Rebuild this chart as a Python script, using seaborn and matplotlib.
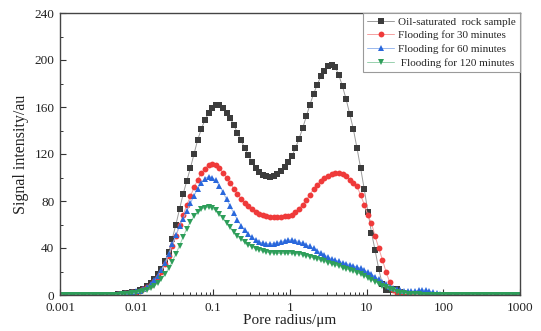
import numpy as np
import matplotlib
matplotlib.use("Agg")
import matplotlib.pyplot as plt
import matplotlib.ticker as mticker
import seaborn as sns

# ---- data ----
n_points = 128
radius = np.logspace(-3, 3, n_points)

lead_black = [0.0] * 14 + [0.2, 0.4, 0.6, 0.9, 1.3, 1.8]
oil_saturated = lead_black + [
    2.2, 2.9, 4.0, 5.5, 7.5, 10, 13.5, 17.5, 22.5, 29,
    37, 48, 60, 73, 86, 97, 108, 120, 132, 141,
    149, 154.5, 159, 162, 162, 159.5, 155, 150.5, 144.5, 138,
    131.5, 125, 119, 113, 108.5, 105, 102.5, 101, 100.5, 101,
    103, 105.5, 109, 113, 118, 125, 133, 142, 152, 162,
    171, 179, 186, 191, 194.5, 196, 194, 187, 177.5, 166.5,
    154, 141, 125, 108, 90, 71, 53, 38, 22, 9,
    4, 4.5, 5.5, 5, 2.5, 0.8]
oil_saturated += [0.0] * (n_points - len(oil_saturated))

flood_30 = lead_black + [
    2.2, 2.9, 3.8, 5.0, 6.5, 8.8, 12, 15.5, 20, 26,
    33, 41.5, 50, 59.5, 68, 76.5, 84, 91.5, 98, 103.5,
    107.5, 110.5, 111.5, 110.5, 108, 104, 100, 95, 90.5, 86,
    82, 78.5, 75.5, 73, 71, 69, 68, 67, 66.7, 66.5,
    66.5, 66.5, 67, 67.5, 68.5, 70.5, 73.5, 77, 81, 85.5,
    90, 94, 97, 99.5, 101.5, 103, 104, 104.2, 103.2, 101,
    98, 95.5, 92.5, 85, 77, 68, 61, 50, 40, 30,
    20, 11, 4.5, 1.8, 0.8, 0.3]
flood_30 += [0.0] * (n_points - len(flood_30))

flood_60 = lead_black + [
    2.3, 3.0, 3.8, 5.0, 6.8, 9.2, 12.5, 16.5, 21.5, 27.5,
    35, 43, 51, 58.5, 65, 71.5, 78, 84.5, 90.5, 95.5,
    99, 100.8, 100, 97.5, 93, 87.5, 81.5, 75.5, 69.5, 64,
    59, 55, 51.5, 49, 47, 45.3, 44.2, 43.6, 43.5, 43.8,
    44.5, 45.3, 46.2, 46.8, 46.8, 46.3, 45.3, 44.2, 42.8, 41.3,
    39.6, 37.8, 35.8, 34, 32.3, 30.8, 29.6, 28.6, 27.6, 26.7,
    25.8, 24.8, 23.8, 22.7, 21.2, 19.5, 17.5, 15.5, 13.2, 11,
    9, 7.2, 6, 5, 4.3, 3.7, 3.4, 3.3, 3.5, 3.9,
    4.2, 4.0, 3.3, 2.4, 1.5, 0.8, 0.3]
flood_60 += [0.0] * (n_points - len(flood_60))

flood_120 = [0.0] * 14 + [0.1, 0.2, 0.4, 0.6, 0.8, 1.1] + [
    1.4, 1.8, 2.4, 3.1, 4.1, 5.6, 7.6, 10.3, 13.7, 17.8,
    22.8, 28.5, 35, 42, 49.5, 56.5, 62.5, 67, 70.5, 73,
    74.4, 74.8, 74, 72, 69, 65.5, 61.5, 57.5, 54, 50.5,
    47.5, 45, 42.8, 41, 39.5, 38.3, 37.3, 36.5, 36, 35.6,
    35.4, 35.4, 35.5, 35.5, 35.4, 35.2, 34.8, 34.2, 33.4, 32.5,
    31.5, 30.5, 29.5, 28.6, 27.6, 26.6, 25.6, 24.5, 23.3, 22.2,
    21.2, 20.2, 19, 17.8, 16.3, 14.7, 13, 11.3, 9.6, 8,
    6.5, 5.1, 3.9, 2.8, 2.0, 1.5, 1.2, 1.0, 0.8, 0.6,
    0.4]
flood_120 += [0.0] * (n_points - len(flood_120))

series_labels = ["Oil-saturated  rock sample", "Flooding for 30 minutes",
                 "Flooding for 60 minutes", " Flooding for 120 minutes"]
x_ticks = [0.001, 0.01, 0.1, 1, 10, 100, 1000]
x_tick_labels = ["0.001", "0.01", "0.1", "1", "10", "100", "1000"]
y_ticks = [0, 40, 80, 120, 160, 200, 240]

# ---- style ----
sns.set_theme(style="ticks")
plt.rcParams["font.family"] = ["Liberation Serif", "DejaVu Serif"]

fig = plt.figure(figsize=(5.41, 3.31), dpi=100)
ax = fig.add_axes([60 / 541, 36 / 331, 460 / 541, 282 / 331])

styles = [
    (oil_saturated, "s", "#3c3c3c", "#9a9a9a", 3.8),
    (flood_30, "o", "#ef3a3a", "#f4a0a0", 4.2),
    (flood_60, "^", "#2a68dc", "#9ab8ee", 4.4),
    (flood_120, "v", "#2e9e5a", "#98d0ae", 4.4),
]
for (vals, mk, mc, lc, ms), lab in zip(styles, series_labels):
    sns.lineplot(x=radius, y=np.array(vals, dtype=float), ax=ax, color=lc,
                 linewidth=0.7, marker=mk, markersize=ms,
                 markerfacecolor=mc, markeredgecolor=mc, markeredgewidth=0,
                 label=lab, estimator=None, sort=False)

ax.set_xscale("log")
ax.set_xlim(0.001, 1000)
ax.set_ylim(0, 240)
ax.xaxis.set_major_locator(mticker.FixedLocator(x_ticks))
ax.xaxis.set_major_formatter(mticker.FixedFormatter(x_tick_labels))
ax.xaxis.set_minor_locator(mticker.LogLocator(base=10, subs=np.arange(2, 10), numticks=20))
ax.xaxis.set_minor_formatter(mticker.NullFormatter())
ax.yaxis.set_major_locator(mticker.FixedLocator(y_ticks))
ax.yaxis.set_minor_locator(mticker.MultipleLocator(20))

ax.tick_params(which="both", direction="in", top=False, right=False,
               color="#333333", labelsize=9.5, labelcolor="#222222")
ax.tick_params(axis="y", pad=4)
ax.tick_params(axis="x", pad=5)
ax.tick_params(which="major", length=4, width=0.8)
ax.tick_params(which="minor", length=2.2, width=0.7)
for sp in ax.spines.values():
    sp.set_color("#444444")
    sp.set_linewidth(1.0)

ax.set_xlabel("Pore radius/μm", fontsize=11, color="#222222", labelpad=0)
ax.set_ylabel("Signal intensity/au", fontsize=11.5, color="#222222", labelpad=4)

leg = ax.legend(loc="upper right", borderaxespad=0, fontsize=8,
                frameon=True, fancybox=False, edgecolor="#9a9a9a",
                framealpha=1, labelspacing=0.35, handlelength=2.4,
                handletextpad=0.4, borderpad=0.35)
leg.get_frame().set_linewidth(0.8)

fig.savefig("out.png", dpi=100)
